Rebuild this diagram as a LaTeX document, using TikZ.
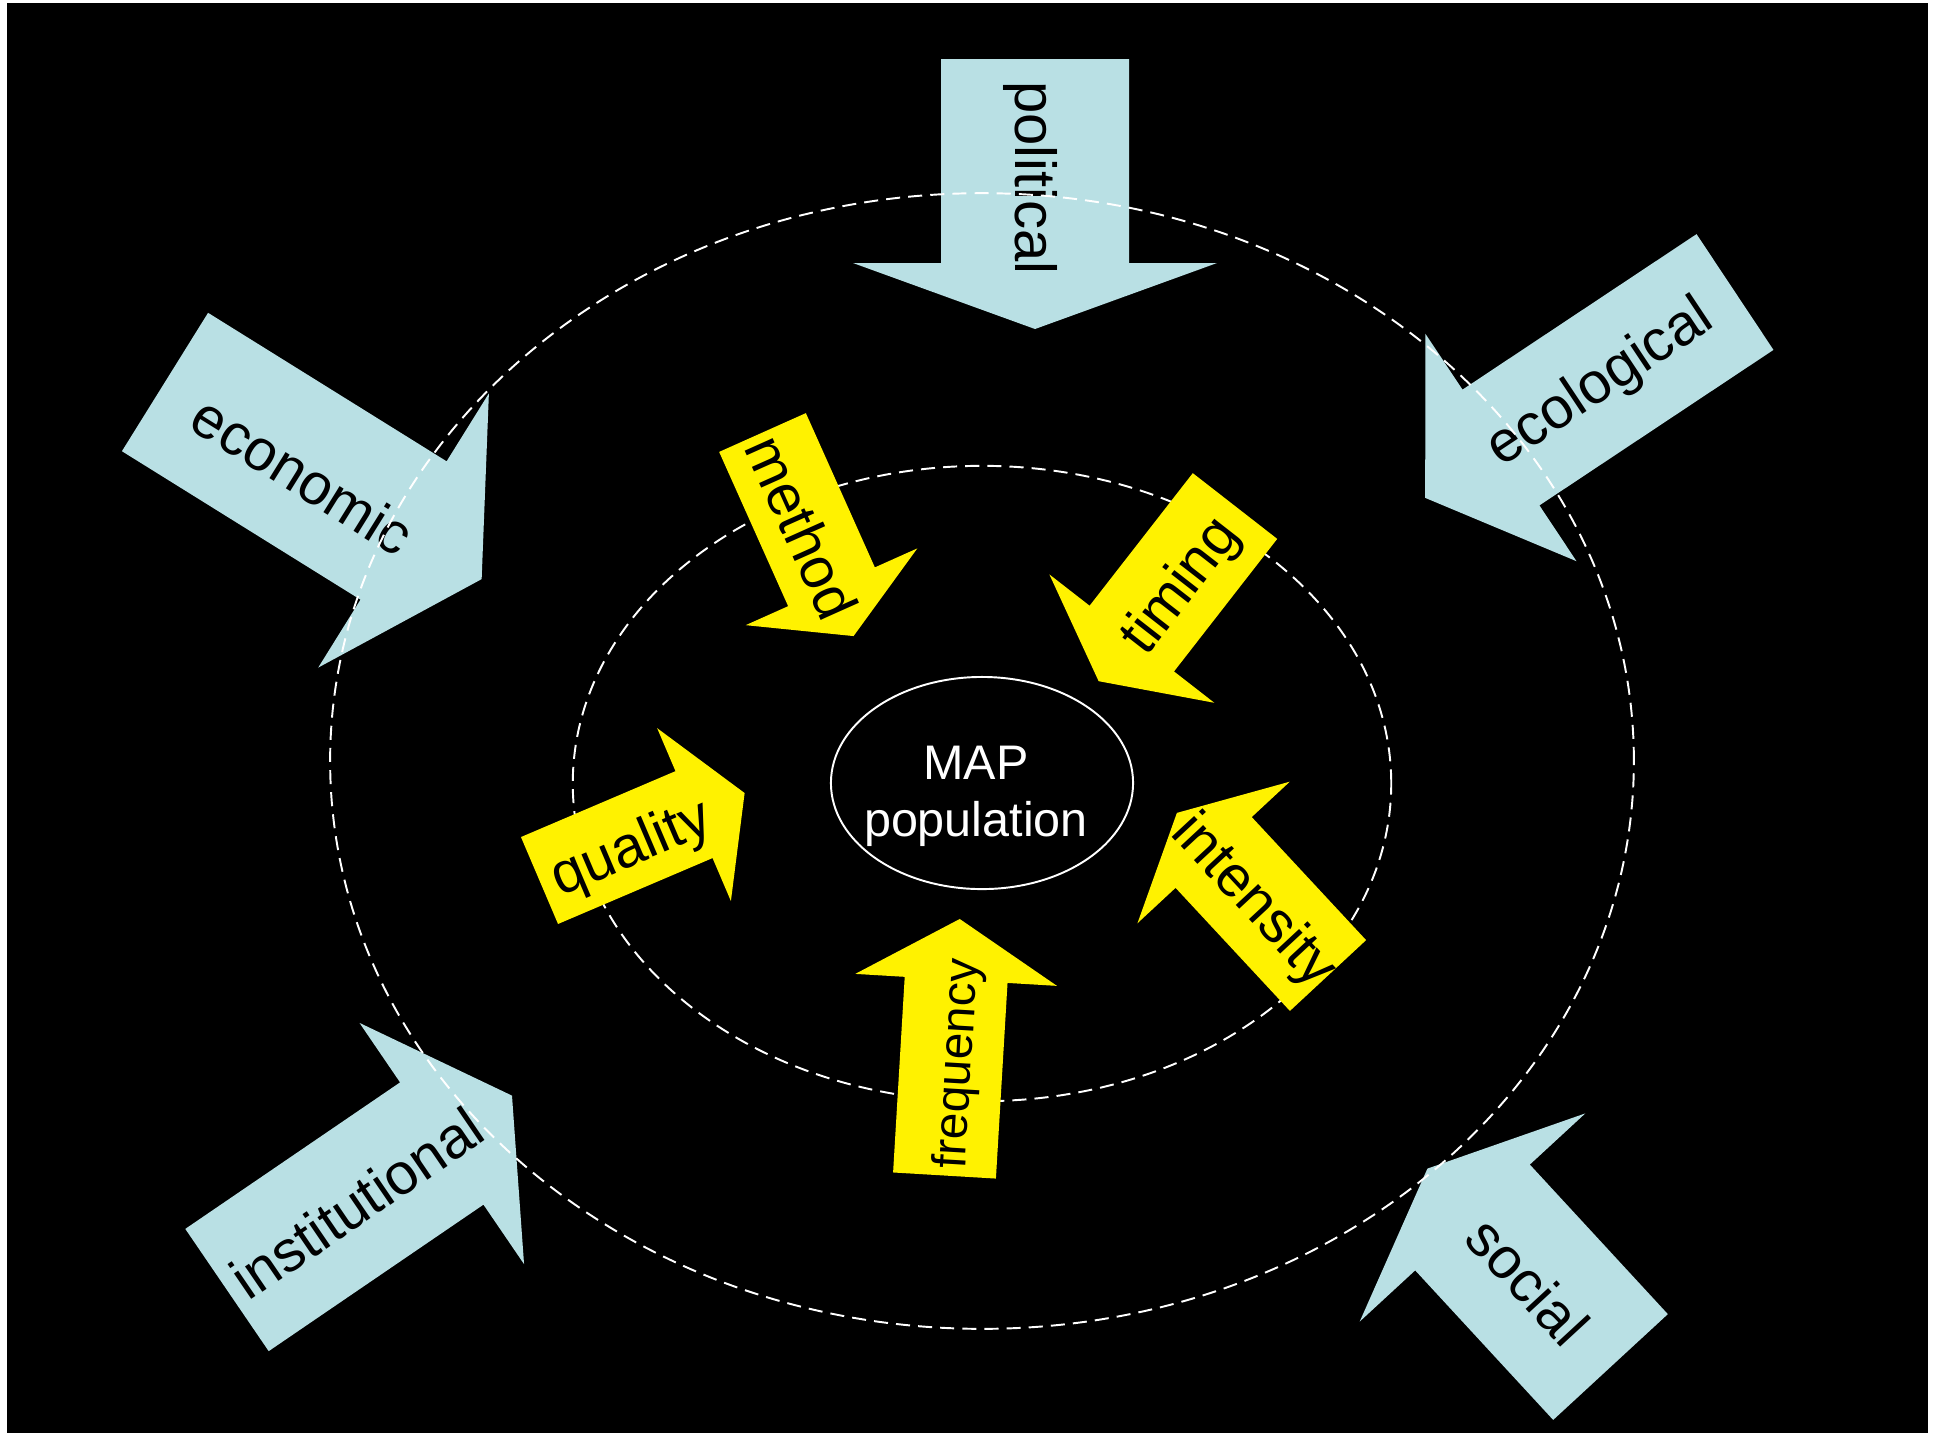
\documentclass[tikz,border=0pt]{standalone}
\usepackage{fontspec}
\setmainfont{Liberation Sans}
\usetikzlibrary{shapes.geometric}

\definecolor{flowblue}{RGB}{185,224,228}

\newcommand\flowarrow[7]{%
  \fill[#1, shift={(#2)}, rotate=#3]
    (0,-#5/2) -- (#4,-#5/2) -- (#4,-#6/2) -- (#4+#7,0)
    -- (#4,#6/2) -- (#4,#5/2) -- (0,#5/2) -- cycle;
}

\begin{document}
\begin{tikzpicture}[x=0.01cm, y=-0.01cm,
                    bluearrow/.style={fill=flowblue},
                    yellowarrow/.style={fill=yellow},
                    ring/.style={draw=white, line width=0.55pt, dash pattern=on 4pt off 2.3pt},
                    lbl/.style={font=\fontsize{16.5}{19}\selectfont, inner sep=0pt}]

  \useasboundingbox (0,0) rectangle (1933,1447);
  \fill[black] (7,3) rectangle (1928,1433);

  \flowarrow{bluearrow}{1035,59}{-90}{204}{188}{364}{66}
  \flowarrow{bluearrow}{165,382}{-31.9}{281}{163}{323}{92}
  \flowarrow{bluearrow}{1735,292}{213.6}{281}{139}{273}{91}
  \flowarrow{bluearrow}{227,1290}{34.3}{260}{148}{292}{85}
  \flowarrow{bluearrow}{1610.5,1367}{132.7}{203.5}{156}{307}{66.5}

  \node[lbl, rotate=-90] (political) at (1030,178) {political};
  \node[lbl, rotate=-31.9] (economic) at (303,475) {economic};
  \node[lbl, rotate=33.6] (ecological) at (1601,384) {ecological};
  \node[lbl, rotate=34.3] (institutional) at (357,1203) {institutional};
  \node[lbl, rotate=-47.3] (social) at (1528,1281) {social};

  \draw[ring] (982,761) ellipse [x radius=6.515cm, y radius=5.675cm];
  \draw[ring] (982,783.5) ellipse [x radius=4.09cm, y radius=3.175cm];

  \flowarrow{yellowarrow}{762.5,432.5}{-65.9}{169}{95}{188}{54}
  \flowarrow{yellowarrow}{1235,506}{-127.9}{168}{107}{209}{54}
  \flowarrow{yellowarrow}{539.5,880.5}{23.1}{168}{94.5}{188}{55}
  \flowarrow{yellowarrow}{1328,975.5}{132.9}{168}{104}{208}{54}
  \flowarrow{yellowarrow}{944.5,1175.5}{86.6}{196}{103}{202}{61}

  \node[lbl, rotate=-65.9] (method) at (802,527) {method};
  \node[lbl, rotate=52.1] (timing) at (1182,587) {timing};
  \node[lbl, rotate=23.1] (quality) at (632,850) {quality};
  \node[lbl, rotate=-47.1] (intensity) at (1253,902) {intensity};
  \node[lbl, rotate=86.6, font=\fontsize{13.6}{16}\selectfont] (frequency) at (959,1064) {frequency};

  \node[ellipse, draw=white, line width=0.55pt, inner sep=0pt,
        minimum width=3.02cm, minimum height=2.12cm] (map) at (982,783) {};
  \node[font=\fontsize{13.8}{16.2}\selectfont, text=white, align=center, inner sep=0pt]
    (maptext) at (976,796) {MAP\\population};

\end{tikzpicture}
\end{document}
